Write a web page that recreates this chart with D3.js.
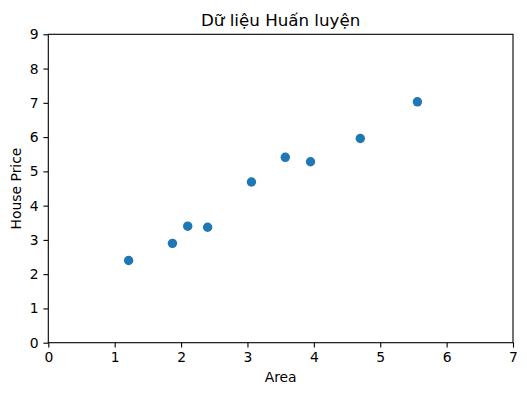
<!DOCTYPE html>
<html>
<head>
<meta charset="utf-8">
<script src="https://cdn.jsdelivr.net/npm/d3@7"></script>
<style>
  body { margin: 0; background: #fff; }
  svg text { font-family: "DejaVu Sans", sans-serif; fill: #000; }
</style>
</head>
<body>
<div id="chart"></div>
<script>
const width = 527, height = 395;
const margin = {top: 34.3, right: 14, bottom: 52.3, left: 48.3};

// training data
const area = [1.21, 1.87, 2.10, 2.40, 3.06, 3.57, 3.95, 4.70, 5.56];
const price = [2.40, 2.90, 3.40, 3.37, 4.69, 5.41, 5.28, 5.96, 7.03];
const xTicks = [0, 1, 2, 3, 4, 5, 6, 7];
const yTicks = [0, 1, 2, 3, 4, 5, 6, 7, 8, 9];

const svg = d3.select("#chart").append("svg")
    .attr("width", width)
    .attr("height", height);

const x = d3.scaleLinear().domain([0, 7]).range([margin.left, width - margin.right]);
const y = d3.scaleLinear().domain([0, 9]).range([height - margin.bottom, margin.top]);

const xAxis = d3.axisBottom(x).tickValues(xTicks).tickSize(4.9).tickPadding(4.9).tickFormat(d3.format("d"));
const yAxis = d3.axisLeft(y).tickValues(yTicks).tickSize(4.9).tickPadding(4.9).tickFormat(d3.format("d"));

const gx = svg.append("g")
    .attr("transform", "translate(0," + (height - margin.bottom) + ")")
    .call(xAxis);
const gy = svg.append("g")
    .attr("transform", "translate(" + margin.left + ",0)")
    .call(yAxis);

[gx, gy].forEach(g => {
    g.select(".domain").remove();
    g.selectAll(".tick line").attr("stroke", "#000").attr("stroke-width", 1.1);
    g.selectAll(".tick text").attr("font-size", 13.9).attr("font-family", "DejaVu Sans");
});

// frame
svg.append("rect")
    .attr("x", margin.left)
    .attr("y", margin.top)
    .attr("width", width - margin.right - margin.left)
    .attr("height", height - margin.bottom - margin.top)
    .attr("fill", "none")
    .attr("stroke", "#000")
    .attr("stroke-width", 1.1);

svg.selectAll("circle")
    .data(area)
    .enter().append("circle")
    .attr("cx", d => x(d))
    .attr("cy", (d, i) => y(price[i]))
    .attr("r", 4.7)
    .attr("fill", "#1f77b4");

svg.append("text")
    .attr("x", (margin.left + width - margin.right) / 2)
    .attr("y", 25.5)
    .attr("text-anchor", "middle")
    .attr("font-size", 16.7)
    .text("Dữ liệu Huấn luyện");

svg.append("text")
    .attr("x", (margin.left + width - margin.right) / 2)
    .attr("y", 382)
    .attr("text-anchor", "middle")
    .attr("font-size", 13.9)
    .text("Area");

svg.append("text")
    .attr("transform", "translate(21," + ((margin.top + height - margin.bottom) / 2) + ") rotate(-90)")
    .attr("text-anchor", "middle")
    .attr("font-size", 13.9)
    .text("House Price");
</script>
</body>
</html>
